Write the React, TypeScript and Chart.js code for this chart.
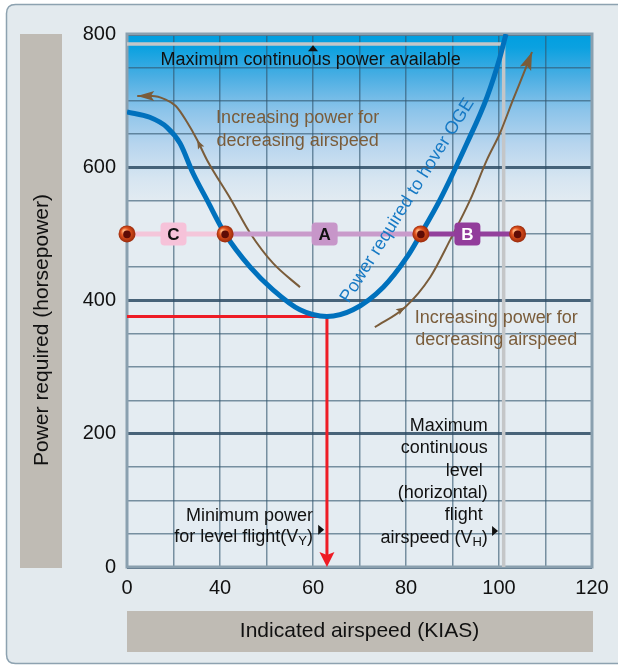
import React, { useEffect, useRef } from "react";
import { Chart, registerables } from "chart.js";

Chart.register(...registerables);

// ---- data ----
const xTickValues = [20, 40, 60, 80, 100, 120];
const xTickLabels = ["0", "40", "60", "80", "100", "120"];
const yTickValues = [0, 200, 400, 600, 800];
const yTickLabels = ["0", "200", "400", "600", "800"];

// Power required to hover OGE curve (KIAS, hp)
const powerSpeed = [20, 24.9, 28.6, 31.4, 34.2, 37.2, 41.1, 46.5, 51.4, 57.2, 63, 68.6, 75.1, 80.2, 83.2, 87.3, 93.1, 97.4, 100.2, 101.5];
const powerHp = [683, 675, 660, 636, 591, 551, 500, 450, 416, 386, 376, 386, 420, 465, 500, 551, 636, 705, 765, 800];

// Brown arrows: increasing power for decreasing airspeed
const leftArrowSpeed = [22.2, 25.4, 28.2, 30.5, 32.9, 35.1, 37.2, 42.4, 46.5, 51.4, 57.2];
const leftArrowHp = [707, 707, 702, 692, 668, 641, 611, 551, 501, 456, 420];
const rightArrowSpeed = [73.3, 79.8, 85.2, 89.5, 93.8, 97.4, 100.2, 103.0, 105.6, 107.1];
const rightArrowHp = [360, 390, 435, 491, 551, 611, 651, 701, 746, 773];

const maxPowerAvailable = 785;
const vhSpeed = 101;
const vySpeed = 63;
const minPower = 376;

const bandPower = 500;
const bandDotSpeeds = [20, 41.1, 83.2, 104.0];
const bandLabels = ["C", "A", "B"];
const bandLabelSpeeds = [30, 62.5, 93.2];

const FONT = "'Liberation Sans', Arial, Helvetica, sans-serif";

const bandLineColors = ["#f4c6da", "#c99bcb", "#93409c"];
const bandBoxColors = ["#f6c2d9", "#c796c9", "#923c9b"];
const bandTextColors = ["#111111", "#111111", "#ffffff"];

function pts(xs: number[], ys: number[]) {
  return xs.map((x, i) => ({ x, y: ys[i] }));
}

function rr(ctx: CanvasRenderingContext2D, x: number, y: number, w: number, h: number, r: number) {
  ctx.beginPath();
  ctx.moveTo(x + r, y);
  ctx.lineTo(x + w - r, y);
  ctx.quadraticCurveTo(x + w, y, x + w, y + r);
  ctx.lineTo(x + w, y + h - r);
  ctx.quadraticCurveTo(x + w, y + h, x + w - r, y + h);
  ctx.lineTo(x + r, y + h);
  ctx.quadraticCurveTo(x, y + h, x, y + h - r);
  ctx.lineTo(x, y + r);
  ctx.quadraticCurveTo(x, y, x + r, y);
  ctx.closePath();
}

function arrowHead(ctx: CanvasRenderingContext2D, fx: number, fy: number, tx: number, ty: number, len: number, half: number, color: string) {
  const a = Math.atan2(ty - fy, tx - fx);
  ctx.save();
  ctx.translate(tx, ty);
  ctx.rotate(a);
  ctx.beginPath();
  ctx.moveTo(0, 0);
  ctx.lineTo(-len, -half);
  ctx.lineTo(-len * 0.8, 0);
  ctx.lineTo(-len, half);
  ctx.closePath();
  ctx.fillStyle = color;
  ctx.fill();
  ctx.restore();
}

function richRight(ctx: CanvasRenderingContext2D, parts: { t: string; sub?: boolean }[], xr: number, y: number) {
  const main = `18px ${FONT}`;
  const sub = `13px ${FONT}`;
  let total = 0;
  for (const p of parts) {
    ctx.font = p.sub ? sub : main;
    total += ctx.measureText(p.t).width;
  }
  let x = xr - total;
  ctx.textAlign = "left";
  for (const p of parts) {
    ctx.font = p.sub ? sub : main;
    ctx.fillText(p.t, x, p.sub ? y + 5 : y);
    x += ctx.measureText(p.t).width;
  }
}

const decoPlugin = {
  id: "deco",
  beforeDraw(chart: any) {
    const { ctx, chartArea: ca } = chart;
    ctx.save();
    ctx.fillStyle = "#ffffff";
    ctx.fillRect(0, 0, chart.width, chart.height);
    rr(ctx, 6.5, 4.5, 700, 659, 9);
    ctx.fillStyle = "#e3eaee";
    ctx.fill();
    ctx.strokeStyle = "#8da2b0";
    ctx.lineWidth = 1.5;
    ctx.stroke();

    // axis title boxes
    ctx.fillStyle = "#bfbbb4";
    ctx.fillRect(20, ca.top, 42, ca.bottom - ca.top + 1);
    ctx.fillRect(ca.left, 611, ca.right - ca.left + 1, 41);

    // plot background
    const g = ctx.createLinearGradient(0, ca.top, 0, ca.top + 170);
    g.addColorStop(0, "#009fe0");
    g.addColorStop(0.08, "#0ba1e0");
    g.addColorStop(0.25, "#4aaee3");
    g.addColorStop(0.45, "#8cc4ea");
    g.addColorStop(0.65, "#b7d5ee");
    g.addColorStop(0.85, "#d6e5f1");
    g.addColorStop(1, "#e4ecf2");
    ctx.fillStyle = g;
    ctx.fillRect(ca.left, ca.top, ca.right - ca.left, ca.bottom - ca.top);

    // axis titles
    ctx.fillStyle = "#111111";
    ctx.font = `21px ${FONT}`;
    ctx.textAlign = "center";
    ctx.textBaseline = "middle";
    ctx.fillText("Indicated airspeed (KIAS)", (ca.left + ca.right) / 2, 631);
    ctx.save();
    ctx.translate(42, 330);
    ctx.rotate(-Math.PI / 2);
    ctx.fillText("Power required (horsepower)", 0, 0);
    ctx.restore();
    ctx.restore();
  },
  beforeDatasetsDraw(chart: any) {
    const { ctx, chartArea: ca } = chart;
    ctx.save();
    ctx.strokeStyle = "#8aa0af";
    ctx.lineWidth = 3;
    ctx.strokeRect(ca.left, ca.top, ca.right - ca.left, ca.bottom - ca.top);
    ctx.restore();
  },
  afterDatasetsDraw(chart: any) {
    const { ctx } = chart;
    const xs = chart.scales.x;
    const ys = chart.scales.y;
    const X = (v: number) => xs.getPixelForValue(v);
    const Y = (v: number) => ys.getPixelForValue(v);
    ctx.save();

    // red arrow head
    arrowHead(ctx, X(vySpeed), Y(50), X(vySpeed), Y(0), 15, 7.5, "#ee1c25");

    // brown arrow heads
    const brown = "#7a5c3a";
    const lm = chart.getDatasetMeta(2).data;
    const rm = chart.getDatasetMeta(3).data;
    arrowHead(ctx, lm[1].x, lm[1].y, lm[0].x, lm[0].y, 17, 5, brown);
    arrowHead(ctx, rm[rm.length - 2].x, rm[rm.length - 2].y, rm[rm.length - 1].x, rm[rm.length - 1].y, 18, 6, brown);
    arrowHead(ctx, lm[6].x, lm[6].y, lm[5].x, lm[5].y, 9, 3.5, brown);
    arrowHead(ctx, rm[0].x, rm[0].y, rm[1].x, rm[1].y, 9, 3.5, brown);

    // band label boxes
    bandLabels.forEach((lab, i) => {
      const cx = X(bandLabelSpeeds[i]);
      const cy = Y(bandPower);
      rr(ctx, cx - 13, cy - 11.5, 26, 23, 4);
      ctx.fillStyle = bandBoxColors[i];
      ctx.fill();
      ctx.fillStyle = bandTextColors[i];
      ctx.font = `bold 17px ${FONT}`;
      ctx.textAlign = "center";
      ctx.textBaseline = "middle";
      ctx.fillText(lab, cx, cy + 1);
    });

    // band dots (spheres)
    bandDotSpeeds.forEach((s) => {
      const cx = X(s);
      const cy = Y(bandPower);
      const r = 8.5;
      const rg = ctx.createRadialGradient(cx - 3, cy - 3, 1, cx, cy, r);
      rg.addColorStop(0, "#ffb07a");
      rg.addColorStop(0.45, "#e0521e");
      rg.addColorStop(1, "#9a2a0c");
      ctx.beginPath();
      ctx.arc(cx, cy, r, 0, Math.PI * 2);
      ctx.fillStyle = rg;
      ctx.fill();
      ctx.beginPath();
      ctx.arc(cx, cy + 0.5, 3.8, 0, Math.PI * 2);
      ctx.fillStyle = "#5e0c06";
      ctx.fill();
    });

    // texts
    ctx.textBaseline = "middle";
    ctx.fillStyle = "#111111";
    ctx.font = `18px ${FONT}`;
    ctx.textAlign = "center";
    ctx.fillText("Maximum continuous power available", X(59.5), Y(761));

    // small up triangle under the max power line
    ctx.beginPath();
    ctx.moveTo(X(60), Y(783));
    ctx.lineTo(X(60) - 5, Y(783) + 6);
    ctx.lineTo(X(60) + 5, Y(783) + 6);
    ctx.closePath();
    ctx.fill();

    ctx.fillStyle = "#7a5c3a";
    ctx.textAlign = "center";
    ctx.fillText("Increasing power for", X(56.7), Y(674));
    ctx.fillText("decreasing airspeed", X(56.7), Y(674) + 23);
    ctx.fillText("Increasing power for", X(99.4), Y(374));
    ctx.fillText("decreasing airspeed", X(99.4), Y(374) + 22);

    // VY text
    ctx.fillStyle = "#111111";
    ctx.textAlign = "right";
    ctx.fillText("Minimum power", X(60), Y(77));
    richRight(ctx, [{ t: "for level flight(V" }, { t: "Y", sub: true }, { t: ")" }], X(60), Y(77) + 21);
    ctx.beginPath();
    ctx.moveTo(X(62.4), Y(56));
    ctx.lineTo(X(62.4) - 6, Y(56) - 5);
    ctx.lineTo(X(62.4) - 6, Y(56) + 5);
    ctx.closePath();
    ctx.fill();

    // VH text
    ctx.font = `18px ${FONT}`;
    ctx.textAlign = "right";
    const vhLines = ["Maximum", "continuous", "level ", "(horizontal)", "flight "];
    const y0 = Y(212);
    vhLines.forEach((l, i) => ctx.fillText(l, X(97.6), y0 + i * 22.4));
    richRight(ctx, [{ t: "airspeed (V" }, { t: "H", sub: true }, { t: ")" }], X(97.6), y0 + 5 * 22.4);
    ctx.beginPath();
    ctx.moveTo(X(99.8), Y(54));
    ctx.lineTo(X(99.8) - 6, Y(54) - 5);
    ctx.lineTo(X(99.8) - 6, Y(54) + 5);
    ctx.closePath();
    ctx.fill();

    // curve label
    ctx.save();
    ctx.translate(X(80.3), Y(550));
    ctx.rotate((-58 * Math.PI) / 180);
    ctx.fillStyle = "#1679c4";
    ctx.font = `18px ${FONT}`;
    ctx.textAlign = "center";
    ctx.fillText("Power required to hover OGE", 0, 0);
    ctx.restore();

    ctx.restore();
  },
};

export default function App() {
  const ref = useRef<HTMLCanvasElement>(null);
  useEffect(() => {
    if (!ref.current) return;
    const minor = "rgba(50,85,110,0.62)";
    const major = "rgba(45,75,100,0.85)";
    const chart = new Chart(ref.current, {
      type: "scatter",
      data: {
        datasets: [
          {
            label: "Power required to hover OGE",
            data: pts(powerSpeed, powerHp),
            showLine: true,
            borderColor: "#0071bd",
            borderWidth: 5,
            pointRadius: 0,
            cubicInterpolationMode: "monotone",
            order: 1,
          },
          {
            label: "Band",
            data: [],
            showLine: true,
            pointRadius: 0,
            order: 2,
          },
          {
            label: "Left arrow",
            data: pts(leftArrowSpeed, leftArrowHp),
            showLine: true,
            borderColor: "#7a5c3a",
            borderWidth: 2,
            pointRadius: 0,
            cubicInterpolationMode: "monotone",
            order: 3,
          },
          {
            label: "Right arrow",
            data: pts(rightArrowSpeed, rightArrowHp),
            showLine: true,
            borderColor: "#7a5c3a",
            borderWidth: 2,
            pointRadius: 0,
            cubicInterpolationMode: "monotone",
            order: 3,
          },
          {
            label: "Minimum power",
            data: [
              { x: xTickValues[0], y: minPower },
              { x: vySpeed, y: minPower },
              { x: vySpeed, y: 12 },
            ],
            showLine: true,
            borderColor: "#ee1c25",
            borderWidth: 3,
            pointRadius: 0,
            order: 4,
          },
          {
            label: "Maximum continuous power",
            data: [
              { x: xTickValues[0], y: maxPowerAvailable },
              { x: vhSpeed, y: maxPowerAvailable },
              { x: vhSpeed, y: 0 },
            ],
            showLine: true,
            borderColor: "#c4c6c8",
            borderWidth: 3.5,
            pointRadius: 0,
            order: 6,
          },
          ...bandLabels.map((l, i) => ({
            label: "Band " + l,
            data: [
              { x: bandDotSpeeds[i], y: bandPower },
              { x: bandDotSpeeds[i + 1], y: bandPower },
            ],
            showLine: true,
            borderColor: bandLineColors[i],
            borderWidth: 5,
            pointRadius: 0,
            order: 2,
          })),
        ],
      },
      options: {
        responsive: false,
        animation: false,
        devicePixelRatio: 1,
        layout: { padding: { top: 34, right: 26, bottom: 0, left: 0 } },
        plugins: { legend: { display: false }, tooltip: { enabled: false } },
        scales: {
          x: {
            type: "linear",
            min: 20,
            max: 120,
            afterFit: (s: any) => {
              s.height = 98;
            },
            ticks: {
              stepSize: 10,
              autoSkip: false,
              maxRotation: 0,
              padding: 9,
              color: "#111111",
              font: { family: FONT, size: 20 },
              callback: (v: any) => {
                const i = xTickValues.indexOf(Math.round(Number(v)));
                return i >= 0 ? xTickLabels[i] : "";
              },
            },
            grid: { color: minor, lineWidth: 1.5, drawTicks: false },
            border: { display: false },
          },
          y: {
            type: "linear",
            min: 0,
            max: 800,
            afterFit: (s: any) => {
              s.width = 127;
            },
            ticks: {
              stepSize: 50,
              autoSkip: false,
              padding: 11,
              color: "#111111",
              font: { family: FONT, size: 20 },
              callback: (v: any) => {
                const i = yTickValues.indexOf(Math.round(Number(v)));
                return i >= 0 ? yTickLabels[i] : "";
              },
            },
            grid: {
              drawTicks: false,
              color: (c: any) => (c.tick && Math.round(c.tick.value) % 200 === 0 ? major : minor),
              lineWidth: (c: any) => (c.tick && Math.round(c.tick.value) % 200 === 0 ? 3 : 1.5),
            },
            border: { display: false },
          },
        },
      },
      plugins: [decoPlugin],
    } as any);
    return () => chart.destroy();
  }, []);
  return (
    <div style={{ position: "absolute", left: 0, top: 0, width: 618, height: 665 }}>
      <canvas ref={ref} width={618} height={665} style={{ display: "block", width: 618, height: 665 }} />
    </div>
  );
}
